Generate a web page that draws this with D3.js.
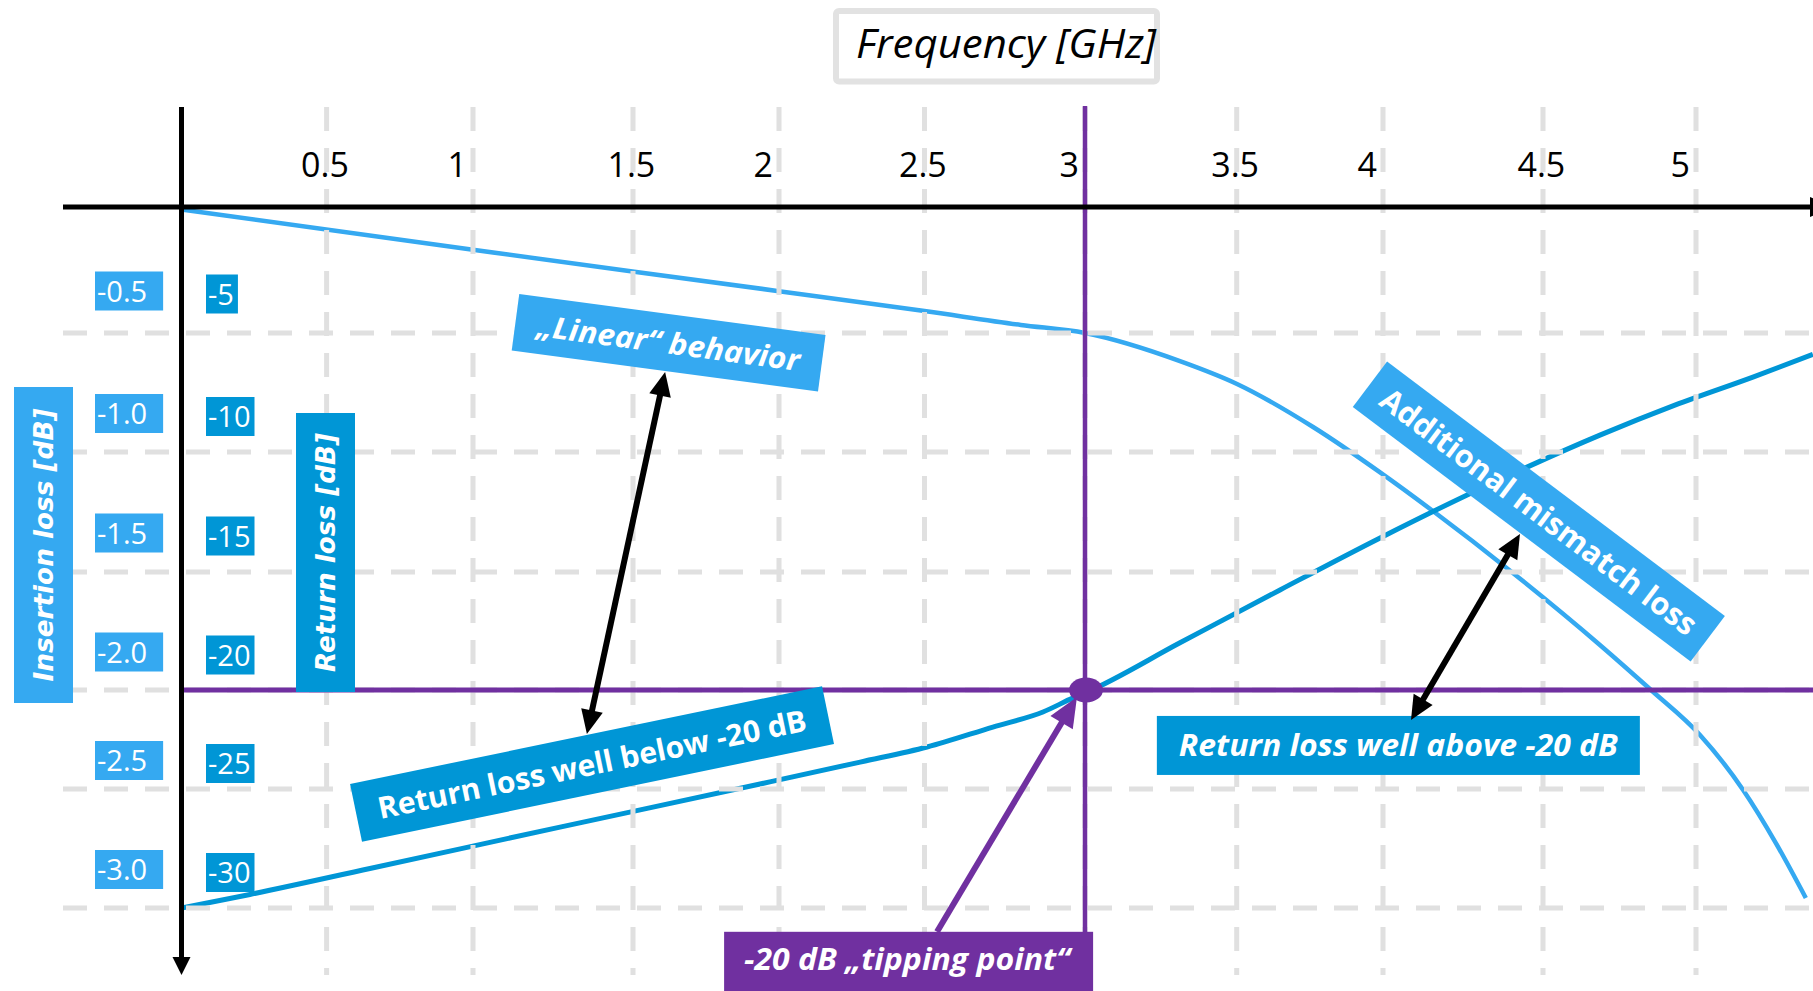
<!DOCTYPE html>
<html><head><meta charset="utf-8">
<script src="https://cdn.jsdelivr.net/npm/d3@7"></script>
<style>
html,body{margin:0;padding:0;background:#fff;}
svg{display:block;font-family:"Open Sans",sans-serif;}
</style></head><body>
<svg id="chart" width="1813" height="991"></svg>
<script>
// ---------- data ----------
const freqTicks = [0.5, 1, 1.5, 2, 2.5, 3, 3.5, 4, 4.5, 5];
const freqTickLabels = ["0.5", "1", "1.5", "2", "2.5", "3", "3.5", "4", "4.5", "5"];
const insertionTicks = [-0.5, -1.0, -1.5, -2.0, -2.5, -3.0];
const insertionTickLabels = ["-0.5", "-1.0", "-1.5", "-2.0", "-2.5", "-3.0"];
const returnTicks = [-5, -10, -15, -20, -25, -30];
const returnTickLabels = ["-5", "-10", "-15", "-20", "-25", "-30"];

// Insertion loss curve (GHz, dB)
const insertionFreq = [0, 1, 2, 2.5, 2.8, 3, 3.313, 3.501, 3.761, 3.990, 4.156, 4.406, 4.686, 4.853, 5.013, 5.154, 5.261, 5.359];
const insertionLoss = [-0.01, -0.170, -0.334, -0.413, -0.468, -0.50, -0.618, -0.714, -0.895, -1.085, -1.246, -1.504, -1.809, -2.0, -2.227, -2.504, -2.727, -2.958];

// Return loss curve (GHz, dB)
const returnFreq = [0, 0.236, 0.648, 1.272, 1.935, 2.279, 2.508, 2.713, 2.869, 2.963, 3.0, 3.313, 3.648, 3.990, 4.263, 4.450, 4.686, 4.931, 5.186, 5.382];
const returnLoss = [-30, -29.43, -28.34, -26.6, -24.75, -23.64, -22.88, -21.87, -21.11, -20.40, -20.15, -18.0, -15.76, -13.58, -11.79, -10.63, -9.29, -8.03, -6.85, -5.9];

const tippingFreq = 3.0;
const tippingLevel = -20;

// ---------- styles ----------
const ilColor = "#35a9f1", rlColor = "#0096d6", purple = "#7030a0", gridColor = "#e0e0e0";
const W = 1813, H = 991;

const svg = d3.select("#chart");
svg.append("rect").attr("width", W).attr("height", H).attr("fill", "#fff");

// ---------- scales (hand-drawn grid: piecewise linear) ----------
const x = d3.scaleLinear()
  .domain([0, 0.5, 1, 1.5, 2, 2.5, 3, 3.5, 4, 4.5, 5])
  .range([181.5, 326.6, 473, 633, 779, 924.5, 1085, 1236.7, 1383, 1543, 1696]);
const yRL = d3.scaleLinear().domain([0, -5, -10, -15, -20, -25, -30]).range([207, 333, 452, 572, 690, 789, 908]);
const yIL = d3.scaleLinear().domain([0, -0.5, -1.0, -1.5, -2.0, -2.5, -3.0]).range(yRL.range());

const axisY = yRL(0), axisX = x(0);

// ---------- curves ----------
const ilData = insertionFreq.map((f, i) => [f, insertionLoss[i]]);
const rlData = returnFreq.map((f, i) => [f, returnLoss[i]]);
svg.append("path").datum(ilData)
  .attr("d", d3.line().x(d => x(d[0])).y(d => yIL(d[1])).curve(d3.curveMonotoneX))
  .attr("fill", "none").attr("stroke", ilColor).attr("stroke-width", 4.5);
svg.append("path").datum(rlData)
  .attr("d", d3.line().x(d => x(d[0])).y(d => yRL(d[1])).curve(d3.curveMonotoneX))
  .attr("fill", "none").attr("stroke", rlColor).attr("stroke-width", 5);

// ---------- grid ----------
const grid = svg.append("g").attr("stroke", gridColor).attr("stroke-width", 5).attr("stroke-dasharray", "24,17");
grid.selectAll("line.v").data(freqTicks).join("line").attr("class", "v")
  .attr("x1", d => x(d)).attr("x2", d => x(d)).attr("y1", 107).attr("y2", 975);
grid.selectAll("line.h").data(returnTicks).join("line").attr("class", "h")
  .attr("x1", 63).attr("x2", W).attr("y1", d => yRL(d)).attr("y2", d => yRL(d));

// ---------- purple guides ----------
svg.append("line").attr("x1", x(tippingFreq)).attr("x2", x(tippingFreq)).attr("y1", 106).attr("y2", H)
  .attr("stroke", purple).attr("stroke-width", 4.5);
svg.append("line").attr("x1", axisX).attr("x2", W).attr("y1", yRL(tippingLevel)).attr("y2", yRL(tippingLevel))
  .attr("stroke", purple).attr("stroke-width", 5);

// ---------- axes ----------
svg.append("line").attr("x1", 63).attr("x2", 1812).attr("y1", axisY).attr("y2", axisY)
  .attr("stroke", "#000").attr("stroke-width", 5);
svg.append("path").attr("d", `M1810,${axisY - 10}L1832,${axisY}L1810,${axisY + 10}Z`).attr("fill", "#000");
svg.append("line").attr("x1", axisX).attr("x2", axisX).attr("y1", 107).attr("y2", 960)
  .attr("stroke", "#000").attr("stroke-width", 5);
svg.append("path").attr("d", `M${axisX - 9},957L${axisX},975L${axisX + 9},957Z`).attr("fill", "#000");

// x tick labels
const xAxis = svg.append("g").attr("transform", `translate(0,${axisY})`)
  .call(d3.axisTop(x).tickValues(freqTicks).tickFormat((d, i) => freqTickLabels[i]).tickSize(0).tickPadding(30));
xAxis.select(".domain").remove();
xAxis.selectAll("text").attr("font-size", 34).attr("font-family", "'Open Sans', sans-serif")
  .attr("fill", "#000").attr("text-anchor", "start").attr("dx", -26);

// ---------- tipping point ----------
svg.append("ellipse").attr("cx", x(tippingFreq) + 1).attr("cy", yRL(tippingLevel))
  .attr("rx", 17).attr("ry", 12.5).attr("fill", purple);

// ---------- y tick label boxes ----------
function tickBoxes(ticks, labels, scale, halfStep, shift, left, fill, padR) {
  const g = svg.append("g");
  ticks.forEach((t, i) => {
    const cy = scale(t - halfStep) + shift;
    const gg = g.append("g");
    const r = gg.append("rect").attr("fill", fill);
    const tx = gg.append("text").attr("x", left + 2).attr("y", cy + 10.5)
      .attr("font-size", 29).attr("fill", "#fff").text(labels[i]);
    const w = tx.node().getComputedTextLength();
    r.attr("x", left).attr("y", cy - 19.5).attr("width", w + padR).attr("height", 39);
  });
}
tickBoxes(insertionTicks, insertionTickLabels, yIL, -0.25, 21, 95, ilColor, 18);
tickBoxes(returnTicks, returnTickLabels, yRL, -2.5, 24, 206, rlColor, 6);

// ---------- axis titles ----------
function vTitle(cx, cy, w, h, fill, label, len, size) {
  svg.append("rect").attr("x", cx - w / 2).attr("y", cy - h / 2).attr("width", w).attr("height", h).attr("fill", fill);
  svg.append("text").attr("transform", `translate(${cx},${cy}) rotate(-90)`)
    .attr("x", 0).attr("y", size * 0.36).attr("text-anchor", "middle")
    .attr("font-size", size).attr("font-weight", "bold").attr("font-style", "italic")
    .attr("font-family", "'DejaVu Sans', 'Open Sans', sans-serif")
    .attr("fill", "#fff").attr("textLength", len).attr("lengthAdjust", "spacingAndGlyphs").text(label);
}
vTitle(43.5, 545, 59, 316, ilColor, "Insertion loss [dB]", 273, 26);
vTitle(325.5, 552.5, 59, 279, rlColor, "Return loss [dB]", 239, 26);

// frequency title
svg.append("rect").attr("x", 836).attr("y", 11).attr("width", 321).attr("height", 70.5).attr("rx", 3)
  .attr("fill", "#fff").attr("stroke", "#e2e2e2").attr("stroke-width", 6);
svg.append("text").attr("x", 856).attr("y", 58).attr("font-size", 40).attr("font-style", "italic")
  .attr("fill", "#000").attr("textLength", 300).attr("lengthAdjust", "spacingAndGlyphs").text("Frequency [GHz]");

// ---------- annotation tags ----------
function tag(cx, cy, angle, w, h, fill, label, len, size, italic) {
  const g = svg.append("g").attr("transform", `translate(${cx},${cy}) rotate(${angle})`);
  g.append("rect").attr("x", -w / 2).attr("y", -h / 2).attr("width", w).attr("height", h).attr("fill", fill);
  g.append("text").attr("x", 0).attr("y", size * 0.36).attr("text-anchor", "middle")
    .attr("font-size", size).attr("font-weight", "bold").attr("font-style", italic ? "italic" : "normal")
    .attr("fill", "#fff").attr("textLength", len).attr("lengthAdjust", "spacingAndGlyphs").text(label);
}
tag(x(1.622), yRL(-5.41), 7.6, 309, 57, ilColor, "\u201ELinear\u201C behavior", 265, 30, true);
tag(x(1.372), yRL(-23.74), -11.7, 482, 59, rlColor, "Return loss well below -20 dB", 437, 30, false);
tag(x(4.048), yRL(-22.80), 0, 483, 59, rlColor, "Return loss well above -20 dB", 439, 30, true);
tag(x(4.487), yRL(-12.48), 37, 423, 57, ilColor, "Additional mismatch loss", 387, 31, false);

// tipping point tag (runs off the bottom edge)
const tipLeft = x(1.812), tipTop = yRL(-31.0);
svg.append("rect").attr("x", tipLeft).attr("y", tipTop).attr("width", 369).attr("height", 80).attr("fill", purple);
svg.append("text").attr("x", tipLeft + 20).attr("y", tipTop + 38).attr("font-size", 30)
  .attr("font-weight", "bold").attr("font-style", "italic").attr("fill", "#fff")
  .attr("textLength", 326).attr("lengthAdjust", "spacingAndGlyphs").text("-20 dB \u201Etipping point\u201C");

// ---------- arrows ----------
function arrow(p1, p2, color, both, hl, hw, sw) {
  const [x1, y1] = p1, [x2, y2] = p2;
  const a = Math.atan2(y2 - y1, x2 - x1), c = Math.cos(a), s = Math.sin(a);
  const sh = hl * 0.7;
  const sx1 = both ? x1 + c * sh : x1, sy1 = both ? y1 + s * sh : y1;
  const sx2 = x2 - c * sh, sy2 = y2 - s * sh;
  svg.append("line").attr("x1", sx1).attr("y1", sy1).attr("x2", sx2).attr("y2", sy2)
    .attr("stroke", color).attr("stroke-width", sw);
  const head = (tx, ty, dc, ds) => {
    const bx = tx - dc * hl, by = ty - ds * hl;
    return `M${tx},${ty}L${bx - ds * hw / 2},${by + dc * hw / 2}L${bx + ds * hw / 2},${by - dc * hw / 2}Z`;
  };
  svg.append("path").attr("d", head(x2, y2, c, s)).attr("fill", color);
  if (both) svg.append("path").attr("d", head(x1, y1, -c, -s)).attr("fill", color);
}
arrow([x(1.610), yRL(-6.64)], [x(1.356), yRL(-22.22)], "#000", true, 24, 22, 6);
arrow([x(4.428), yRL(-13.42)], [x(4.0875), yRL(-21.52)], "#000", true, 24, 22, 6);
arrow([x(2.539), yRL(-31.0)], [x(2.975), yRL(-20.35)], purple, false, 30, 26, 6);
</script>
</body></html>
